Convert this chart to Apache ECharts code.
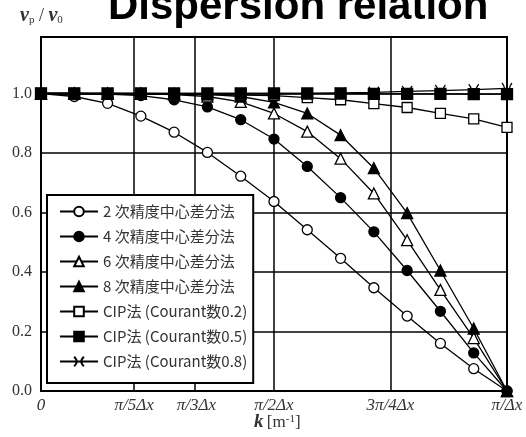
<!DOCTYPE html>
<html>
<head>
<meta charset="utf-8">
<script src="https://cdn.jsdelivr.net/npm/echarts@6/dist/echarts.min.js"></script>
<style>
html,body{margin:0;padding:0;background:#fff;}
#chart{width:526px;height:437px;}
</style>
</head>
<body>
<div id="chart"></div>
<script>
// k / (pi/dx) sample positions
var kOverPi = [0, 0.0714, 0.1429, 0.2143, 0.2857, 0.3571, 0.4286, 0.5, 0.5714, 0.6429, 0.7143, 0.7857, 0.8571, 0.9286, 1.0];
var seriesNames = [
  '2 次精度中心差分法',
  '4 次精度中心差分法',
  '6 次精度中心差分法',
  '8 次精度中心差分法',
  'CIP法 (Courant数0.2)',
  'CIP法 (Courant数0.5)',
  'CIP法 (Courant数0.8)'
];
var fd2 = [1.0, 0.99, 0.967, 0.924, 0.87, 0.802, 0.722, 0.637, 0.542, 0.446, 0.347, 0.252, 0.16, 0.075, 0.0];
var fd4 = [1.0, 1.0, 0.998, 0.993, 0.979, 0.955, 0.912, 0.847, 0.755, 0.65, 0.535, 0.405, 0.268, 0.128, 0.0];
var fd6 = [1.0, 1.0, 1.0, 0.999, 0.996, 0.99, 0.972, 0.933, 0.872, 0.781, 0.664, 0.507, 0.34, 0.178, 0.0];
var fd8 = [1.0, 1.0, 1.0, 1.0, 0.999, 0.997, 0.99, 0.97, 0.933, 0.86, 0.749, 0.598, 0.405, 0.21, 0.0];
var cip02 = [1.0, 1.0, 0.999, 0.998, 0.997, 0.996, 0.995, 0.993, 0.986, 0.979, 0.966, 0.953, 0.933, 0.915, 0.886];
var cip05 = [1.0, 1.0, 1.0, 1.0, 1.0, 1.0, 1.0, 1.0, 1.0, 1.0, 0.999, 0.999, 0.999, 0.998, 0.998];
var cip08 = [1.0, 1.0, 1.0, 1.0, 1.0, 1.0, 1.0, 1.0, 1.0, 1.002, 1.004, 1.007, 1.01, 1.013, 1.017];
var xTickValues = [0, 0.2, 1/3, 0.5, 0.75, 1];
var xTickLabels = ['0', 'π/5Δx', 'π/3Δx', 'π/2Δx', '3π/4Δx', 'π/Δx'];
var xGridValues = [0.2, 1/3, 0.5, 0.75];
var yTickLabels = ['0.0', '0.2', '0.4', '0.6', '0.8', '1.0'];

var allData = [fd2, fd4, fd6, fd8, cip02, cip05, cip08];
function pairs(arr){ return arr.map(function(v,i){ return [kOverPi[i], v]; }); }

var symbols = [
  {symbol:'circle', size:10, fill:'#fff'},
  {symbol:'circle', size:10, fill:'#000'},
  {symbol:'triangle', size:11, fill:'#fff'},
  {symbol:'triangle', size:11, fill:'#000'},
  {symbol:'rect', size:10, fill:'#fff'},
  {symbol:'rect', size:11, fill:'#000'},
  {symbol:'path://M0,0 Q6,6 0,12 M12,0 Q6,6 12,12', size:[10,11], fill:'rgba(0,0,0,0)'}
];

var series = allData.map(function(d, idx){
  var s = {
    name: seriesNames[idx],
    type: 'line',
    data: pairs(d),
    symbol: symbols[idx].symbol,
    symbolSize: symbols[idx].size,
    showAllSymbol: true,
    animation: false,
    lineStyle: {color:'#000', width:1.3},
    itemStyle: {color: symbols[idx].fill, borderColor:'#000', borderWidth:1.3},
    emphasis: {disabled:true},
    z: 3
  };
  if (idx === 0) {
    s.markLine = {
      silent: true,
      symbol: ['none','none'],
      animation: false,
      label: {show:false},
      lineStyle: {color:'#000', width:1.5, type:'solid'},
      data: xGridValues.map(function(v){ return {xAxis: v}; }),
      z: 1
    };
  }
  return s;
});

var chart = echarts.init(document.getElementById('chart'), null, {renderer:'canvas'});
chart.setOption({
  backgroundColor: '#fff',
  animation: false,
  title: {
    text: 'Dispersion relation',
    left: 103,
    top: -19,
    textStyle: {fontFamily:'Liberation Sans, Arial, sans-serif', fontWeight:'bold', fontSize:42, color:'#000'}
  },
  grid: {
    left: 41, right: 19, top: 37, bottom: 46,
    show: true, borderColor:'#000', borderWidth:2, backgroundColor:'#fff'
  },
  xAxis: {
    type: 'value', min: 0, max: 1,
    axisLine: {show:true, lineStyle:{color:'#000', width:2}},
    axisTick: {show:false},
    splitLine: {show:false},
    axisLabel: {
      customValues: xTickValues,
      formatter: function(v){
        for (var i=0;i<xTickValues.length;i++){ if (Math.abs(v-xTickValues[i])<1e-6) return xTickLabels[i]; }
        return '';
      },
      fontFamily: 'Liberation Serif, serif', fontStyle:'italic', fontSize:17, color:'#333', margin:6
    }
  },
  yAxis: {
    type: 'value', min: 0, max: 1.19, interval: 0.2,
    axisLine: {show:true, lineStyle:{color:'#000', width:2}},
    axisTick: {show:false},
    splitLine: {show:true, lineStyle:{color:'#000', width:1.5}},
    axisLabel: {
      showMaxLabel: false,
      formatter: function(v){
        if (v > 1.0001) return '';
        var idx = Math.round(v/0.2);
        return yTickLabels[idx] || '';
      },
      fontFamily: 'Liberation Serif, serif', fontSize:16, color:'#333', margin:9
    }
  },
  legend: {
    orient: 'vertical',
    left: 47, top: 195,
    padding: [9, 6, 14, 12],
    itemGap: 10,
    itemWidth: 38, itemHeight: 12,
    itemTextGap: 4,
    backgroundColor: '#fff',
    borderColor: '#000', borderWidth: 2,
    data: seriesNames,
    textStyle: {fontFamily:'Noto Sans CJK JP, sans-serif', fontSize:15, lineHeight:14, color:'#333'},
    z: 10
  },
  graphic: [
    {
      type:'text', left: 20, top: 6, z: 20,
      style: {
        text: '{v|v}{s|p}{n| / }{v|v}{s|0}',
        rich: {
          v: {fontFamily:'Liberation Serif, serif', fontStyle:'italic', fontWeight:'bold', fontSize:20, fill:'#333'},
          n: {fontFamily:'Liberation Serif, serif', fontSize:18, fill:'#333'},
          s: {fontFamily:'Liberation Serif, serif', fontSize:11, fill:'#333', padding:[9,0,0,0]}
        }
      }
    },
    {
      type:'text', left: 254, top: 413, z: 20,
      style: {
        text: '{k|k} {b|[m}{sup|-1}{b|]}',
        rich: {
          k: {fontFamily:'Liberation Serif, serif', fontStyle:'italic', fontWeight:'bold', fontSize:19, fill:'#333'},
          b: {fontFamily:'Liberation Serif, serif', fontSize:17, fill:'#333'},
          sup: {fontFamily:'Liberation Serif, serif', fontSize:11, fill:'#333', padding:[0,0,7,0]}
        }
      }
    }
  ],
  series: series
});
</script>
</body>
</html>
